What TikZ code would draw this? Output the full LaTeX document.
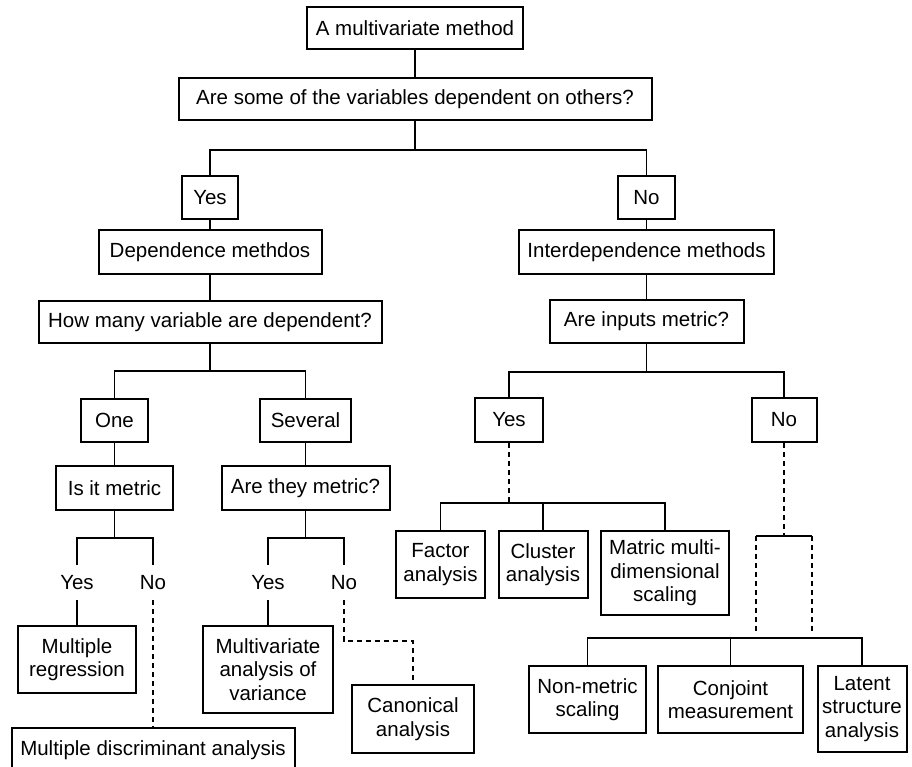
\documentclass[tikz,border=0pt]{standalone}
\usepackage{fontspec}
\setmainfont{Liberation Sans}
\begin{document}
\begin{tikzpicture}[x=1pt,y=-1pt,
  box/.style={draw, line width=2pt, inner sep=0pt, align=center, font=\fontsize{20.5}{23.5}\selectfont},
  lbl/.style={inner sep=0pt, minimum height=35pt, minimum width=30pt, font=\fontsize{20.5}{23.5}\selectfont},
  conn/.style={line width=1.3pt},
  dconn/.style={line width=1.3pt, dash pattern=on 5pt off 4pt}]
\clip (0,0) rectangle (912,766);
\fill[white] (0,0) rectangle (912,766);
% top part
\node[box, minimum width=216pt, minimum height=42pt] (top) at (415,28) {A multivariate method};
\node[box, minimum width=473pt, minimum height=42pt] (q1) at (415,99) {Are some of the variables dependent on others?};
\node[box, minimum width=56pt, minimum height=43pt] (yes1) at (210,197.5) {Yes};
\node[box, minimum width=57pt, minimum height=43pt] (no1) at (646.5,197.5) {No};
\node[box, minimum width=223pt, minimum height=44pt] (dep) at (210,252) {Dependence methdos};
\node[box, minimum width=255pt, minimum height=44pt] (idep) at (646.5,252) {Interdependence methods};
% dependence side
\node[box, minimum width=343pt, minimum height=42pt] (howmany) at (210,322) {How many variable are dependent?};
\node[box, minimum width=67pt, minimum height=43pt] (one) at (114.5,420.5) {One};
\node[box, minimum width=91pt, minimum height=43pt] (several) at (305.5,420.5) {Several};
\node[box, minimum width=117pt, minimum height=44pt] (isit) at (114.5,488) {Is it metric};
\node[box, minimum width=168pt, minimum height=44pt] (arethey) at (305.5,488) {Are they metric?};
\node[lbl] (yes2) at (77,582.5) {Yes};
\node[lbl] (no2) at (153,582.5) {No};
\node[lbl] (yes3) at (268,582.5) {Yes};
\node[lbl] (no3) at (344,582.5) {No};
\node[box, minimum width=118pt, minimum height=67pt] (mreg) at (77,659.5) {Multiple\\regression};
\node[box, minimum width=283pt, minimum height=44pt] (mda) at (153,750) {Multiple discriminant analysis};
\node[box, minimum width=130pt, minimum height=87pt] (manova) at (268,669.5) {Multivariate\\analysis of\\variance};
\node[box, minimum width=122pt, minimum height=68pt] (canon) at (413,719) {Canonical\\analysis};
% interdependence side
\node[box, minimum width=194pt, minimum height=43pt] (inputs) at (646.5,321.5) {Are inputs metric?};
\node[box, minimum width=68pt, minimum height=44pt] (yes4) at (509,420) {Yes};
\node[box, minimum width=65pt, minimum height=44pt] (no4) at (784,420) {No};
\node[box, minimum width=89pt, minimum height=67pt] (factor) at (440.5,564.5) {Factor\\analysis};
\node[box, minimum width=89pt, minimum height=67pt] (cluster) at (543,564.5) {Cluster\\analysis};
\node[box, minimum width=128pt, minimum height=84pt] (matric) at (665,573) {Matric multi-\\dimensional\\scaling};
\node[box, minimum width=117pt, minimum height=67pt] (nonmetric) at (587.5,699.5) {Non-metric\\scaling};
\node[box, minimum width=145pt, minimum height=67pt] (conjoint) at (730.5,699.5) {Conjoint\\measurement};
\node[box, minimum width=89pt, minimum height=86pt] (latent) at (862,709) {Latent\\structure\\analysis};
% junctions
\coordinate (j1) at (415,150);
\coordinate (j2) at (210,371);
\coordinate (j3) at (114.5,538);
\coordinate (j4) at (305.5,538);
\coordinate (k1) at (344,641);
\coordinate (j6) at (646.5,372);
\coordinate (j7) at (509,503);
\coordinate (k2) at (784,536);
\coordinate (k3) at (756,536);
\coordinate (k4) at (812,536);
\coordinate (k5) at (756,632);
\coordinate (k6) at (812,632);
\coordinate (j8) at (730.5,638);
% connectors
\draw[conn] (top) -- (q1);
\draw[conn] (q1) -- (j1);
\draw[conn] (yes1.north) |- (j1) -| (no1.north);
\draw[conn] (yes1) -- (dep);
\draw[conn] (no1) -- (idep);
\draw[conn] (dep) -- (howmany);
\draw[conn] (howmany) -- (j2);
\draw[conn] (one.north) |- (j2) -| (several.north);
\draw[conn] (one) -- (isit);
\draw[conn] (several) -- (arethey);
\draw[conn] (isit) -- (j3);
\draw[conn] (yes2.north) |- (j3) -| (no2.north);
\draw[conn] (arethey) -- (j4);
\draw[conn] (yes3.north) |- (j4) -| (no3.north);
\draw[conn] (yes2) -- (mreg);
\draw[dconn] (no2) -- (mda);
\draw[conn] (yes3) -- (manova);
\draw[dconn] (no3.south) -- (k1) -| (canon.north);
\draw[conn] (idep) -- (inputs);
\draw[conn] (inputs) -- (j6);
\draw[conn] (yes4.north) |- (j6) -| (no4.north);
\draw[dconn] (yes4.south) -- (j7);
\draw[conn] (factor.north) |- (j7) -| (matric.north);
\draw[conn] (cluster.north) -- (cluster.north |- j7);
\draw[dconn] (no4.south) -- (k2);
\draw[conn] (k3) -- (k4);
\draw[dconn] (k3) -- (k5);
\draw[dconn] (k4) -- (k6);
\draw[conn] (nonmetric.north) |- (j8) -| (latent.north);
\draw[conn] (conjoint) -- (j8);
\end{tikzpicture}
\end{document}
